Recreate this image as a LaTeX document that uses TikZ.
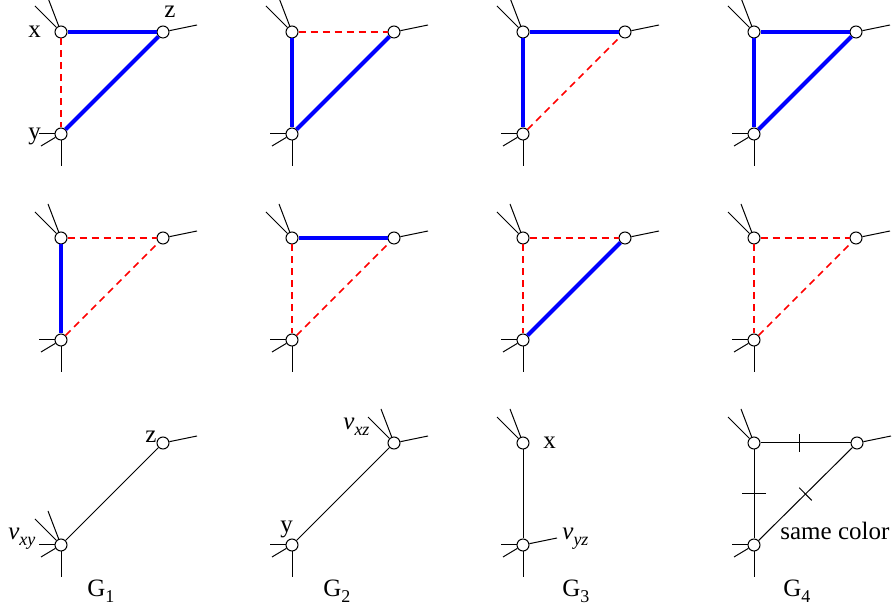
\documentclass[tikz,border=0pt]{standalone}
\usepackage{fontspec}
\setmainfont{Liberation Serif}
\usetikzlibrary{decorations.markings}
\newcommand\sbs[1]{\raisebox{-0.5ex}{\fontsize{9}{10}\selectfont #1}}
\begin{document}
\begin{tikzpicture}[x=0.5pt,y=-0.5pt,
 vtx/.style={circle,draw,fill=white,inner sep=0pt,minimum size=6pt,line width=0.5pt},
 spoke/.style={line width=0.5pt},
 good/.style={draw=blue,line width=2pt},
 bad/.style={draw={rgb,255:red,255;green,0;blue,0},line width=0.75pt,dash pattern=on 3.5pt off 2.5pt},
 plain/.style={line width=0.5pt},
 ticked/.style 2 args={line width=0.5pt,postaction={decorate},decoration={markings,mark=at position #1 with {\draw[line width=0.5pt] (0,-#2) -- (0,#2);}}},
 lab/.style={anchor=base west,inner sep=0pt,font=\fontsize{12.5}{15}\selectfont},
]
\useasboundingbox (0,0) rectangle (894,613);
% spoke macros
\newcommand\xspk[1]{\draw[spoke] (#1) -- +(-26,-26); \draw[spoke] (#1) -- +(-13,-34);}
\newcommand\zspk[1]{\draw[spoke] (#1) -- +(34,-7);}
\newcommand\yspk[1]{\draw[spoke] (#1) -- +(-22,0); \draw[spoke] (#1) -- +(-20,12); \draw[spoke] (#1) -- +(0,32);}
% triangle panel: #1 name, #2 dx, #3 dy, #4 xy, #5 xz, #6 yz
\newcommand\tripanel[6]{%
 \node[vtx] (#1x) at (61+#2,32+#3) {};
 \node[vtx] (#1z) at (163+#2,32+#3) {};
 \node[vtx] (#1y) at (61+#2,134+#3) {};
 \xspk{#1x} \zspk{#1z} \yspk{#1y}
 \draw[#4] (#1x) -- (#1y);
 \draw[#5] (#1x) -- (#1z);
 \draw[#6] (#1y) -- (#1z);
}
\tripanel{pa}{0}{0}{bad}{good}{good}
\tripanel{pb}{231}{0}{good}{bad}{good}
\tripanel{pc}{462}{0}{good}{good}{bad}
\tripanel{pd}{693}{0}{good}{good}{good}
\tripanel{qa}{0}{206}{good}{bad}{bad}
\tripanel{qb}{231}{206}{bad}{good}{bad}
\tripanel{qc}{462}{206}{bad}{bad}{good}
\tripanel{qd}{693}{206}{bad}{bad}{bad}
\node[lab] (lx) at (28,38) {x};
\node[lab] (lz) at (164,18) {z};
\node[lab] (ly) at (28,140) {y};
% G1
\node[vtx] (gaz) at (163,443) {};
\node[vtx] (gav) at (61,545) {};
\zspk{gaz} \xspk{gav} \yspk{gav}
\draw[plain] (gav) -- (gaz);
\node[lab] (gazl) at (145,443) {z};
\node[lab] (gavl) at (8,540) {\textit{v}\sbs{\textit{xy}}};
\node[lab] (gal) at (87,597) {G\sbs{1}};
% G2
\node[vtx] (gbv) at (394,443) {};
\node[vtx] (gby) at (292,545) {};
\xspk{gbv} \zspk{gbv} \yspk{gby}
\draw[plain] (gby) -- (gbv);
\node[lab] (gbvl) at (343,430) {\textit{v}\sbs{\textit{xz}}};
\node[lab] (gbyl) at (280,533) {y};
\node[lab] (gbl) at (323,597) {G\sbs{2}};
% G3
\node[vtx] (gcx) at (523,443) {};
\node[vtx] (gcv) at (523,545) {};
\xspk{gcx} \yspk{gcv} \zspk{gcv}
\draw[plain] (gcx) -- (gcv);
\node[lab] (gcxl) at (543,449) {x};
\node[lab] (gcvl) at (562,540) {\textit{v}\sbs{\textit{yz}}};
\node[lab] (gcl) at (562,597) {G\sbs{3}};
% G4
\node[vtx] (gdx) at (754,443) {};
\node[vtx] (gdz) at (857,443) {};
\node[vtx] (gdy) at (754,545) {};
\xspk{gdx} \zspk{gdz} \yspk{gdy}
\draw[ticked={0.43}{9}] (gdx) -- (gdz);
\draw[ticked={0.5}{12}] (gdx) -- (gdy);
\draw[ticked={0.5}{9}] (gdy) -- (gdz);
\node[lab] (gdsl) at (780,540) {same color};
\node[lab] (gdl) at (783,597) {G\sbs{4}};
\end{tikzpicture}
\end{document}
